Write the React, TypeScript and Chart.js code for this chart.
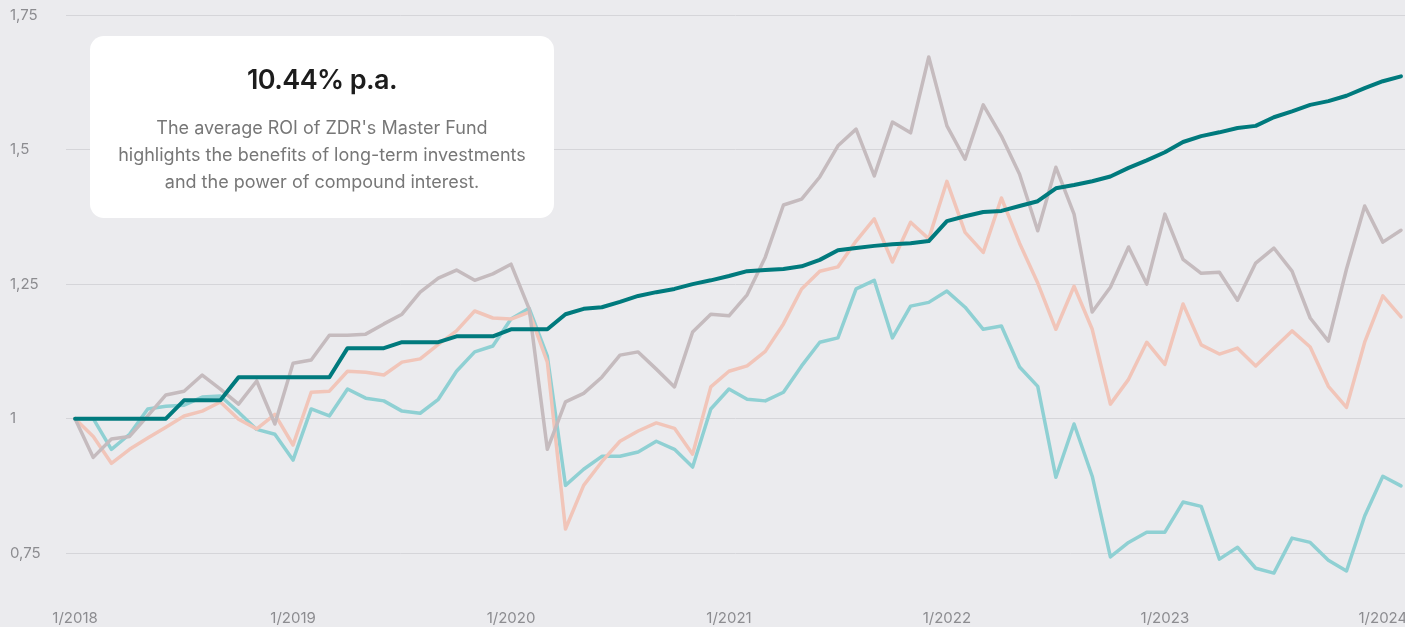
import React, { useEffect, useRef } from "react";
import { Chart, registerables } from "chart.js";

Chart.register(...registerables);

// Monthly index values, Jan 2018 (index 0) to Feb 2024 (index 73)
const masterFund = [
  1.0, 1.0, 1.0, 1.0, 1.0, 1.0, 1.034, 1.034, 1.034, 1.077,
  1.077, 1.077, 1.077, 1.077, 1.077, 1.131, 1.131, 1.131, 1.142, 1.142,
  1.142, 1.153, 1.153, 1.153, 1.166, 1.166, 1.166, 1.194, 1.204, 1.207,
  1.217, 1.228, 1.235, 1.241, 1.25, 1.257, 1.265, 1.274, 1.276, 1.278,
  1.283, 1.295, 1.313, 1.317, 1.321, 1.324, 1.326, 1.33, 1.367, 1.376,
  1.384, 1.386, 1.395, 1.404, 1.428, 1.434, 1.441, 1.45, 1.466, 1.48,
  1.495, 1.514, 1.525, 1.532, 1.54, 1.544, 1.56, 1.571, 1.583, 1.59,
  1.6, 1.614, 1.627, 1.636,
];

const indexTeal = [
  1.0, 1.0, 0.943, 0.971, 1.018, 1.023, 1.025, 1.04, 1.042, 1.012,
  0.98, 0.971, 0.923, 1.018, 1.005, 1.055, 1.038, 1.033, 1.014, 1.01,
  1.036, 1.088, 1.124, 1.135, 1.185, 1.205, 1.116, 0.876, 0.906, 0.93,
  0.93, 0.938, 0.958, 0.943, 0.91, 1.018, 1.055, 1.036, 1.033, 1.049,
  1.098, 1.142, 1.15, 1.241, 1.257, 1.15, 1.209, 1.216, 1.237, 1.207,
  1.166, 1.172, 1.096, 1.06, 0.891, 0.99, 0.893, 0.743, 0.77, 0.789,
  0.789, 0.845, 0.837, 0.739, 0.761, 0.722, 0.713, 0.778, 0.77, 0.737,
  0.717, 0.819, 0.893, 0.875,
];

const indexPink = [
  1.0, 0.967, 0.917, 0.943, 0.964, 0.984, 1.005, 1.014, 1.031, 0.999,
  0.981, 1.008, 0.951, 1.049, 1.051, 1.088, 1.086, 1.081, 1.105, 1.111,
  1.138, 1.163, 1.2, 1.187, 1.185, 1.198, 1.105, 0.795, 0.876, 0.92,
  0.958, 0.977, 0.992, 0.982, 0.934, 1.059, 1.088, 1.098, 1.125, 1.176,
  1.241, 1.274, 1.282, 1.33, 1.371, 1.291, 1.365, 1.334, 1.441, 1.346,
  1.309, 1.41, 1.326, 1.252, 1.166, 1.246, 1.166, 1.027, 1.073, 1.142,
  1.101, 1.213, 1.137, 1.12, 1.131, 1.098, 1.131, 1.163, 1.133, 1.06,
  1.021, 1.142, 1.228, 1.189,
];

const indexMauve = [
  1.0, 0.928, 0.962, 0.967, 1.005, 1.044, 1.051, 1.081, 1.055, 1.027,
  1.07, 0.99, 1.103, 1.109, 1.155, 1.155, 1.157, 1.176, 1.194, 1.235,
  1.261, 1.276, 1.257, 1.269, 1.287, 1.204, 0.943, 1.031, 1.047, 1.077,
  1.118, 1.124, 1.092, 1.059, 1.161, 1.194, 1.191, 1.23, 1.3, 1.397,
  1.408, 1.449, 1.507, 1.538, 1.451, 1.551, 1.531, 1.672, 1.544, 1.482,
  1.583, 1.525, 1.454, 1.349, 1.467, 1.38, 1.198, 1.244, 1.319, 1.25,
  1.38, 1.296, 1.27, 1.272, 1.22, 1.289, 1.317, 1.274, 1.187, 1.144,
  1.278, 1.395, 1.328, 1.35,
];

const xTickMonths = [0, 12, 24, 36, 48, 60, 72];
const xTickLabels = ["1/2018", "1/2019", "1/2020", "1/2021", "1/2022", "1/2023", "1/2024"];
const yTickValues = [0.75, 1, 1.25, 1.5, 1.75];
const yTickLabels = ["0,75", "1", "1,25", "1,5", "1,75"];

const toPoints = (arr: number[]) => arr.map((y, x) => ({ x, y }));

export default function App() {
  const canvasRef = useRef<HTMLCanvasElement>(null);

  useEffect(() => {
    document.body.style.margin = "0";
    const tickFont = { family: "Inter", size: 15 };
    const chart = new Chart(canvasRef.current!, {
      type: "line",
      data: {
        datasets: [
          { label: "ZDR Master Fund", data: toPoints(masterFund), borderColor: "#007a7d", borderWidth: 4, order: 0 },
          { label: "Benchmark A", data: toPoints(indexMauve), borderColor: "#c5bbbe", borderWidth: 3.5, order: 1 },
          { label: "Benchmark B", data: toPoints(indexPink), borderColor: "#f1c5b9", borderWidth: 3.5, order: 2 },
          { label: "Benchmark C", data: toPoints(indexTeal), borderColor: "#8fd0d3", borderWidth: 3.5, order: 3 },
        ],
      },
      options: {
        responsive: false,
        animation: false,
        devicePixelRatio: 1,
        layout: { padding: { left: 10, top: 15, right: 0, bottom: 0 } },
        elements: {
          point: { radius: 0, hoverRadius: 0 },
          line: { tension: 0, borderJoinStyle: "round", borderCapStyle: "round" },
        },
        plugins: { legend: { display: false }, tooltip: { enabled: false } },
        scales: {
          x: {
            type: "linear",
            min: -0.5,
            max: 73.22,
            grid: { display: false, drawTicks: false },
            border: { display: false },
            afterBuildTicks: (s: any) => {
              s.ticks = xTickMonths.map((v) => ({ value: v }));
            },
            afterFit: (s: any) => {
              s.height = 20;
              s.paddingLeft = 0;
              s.paddingRight = 0;
            },
            ticks: {
              autoSkip: false,
              maxRotation: 0,
              padding: 2,
              font: tickFont,
              color: "#8c8c90",
              callback: (v: any) => {
                const i = xTickMonths.indexOf(Number(v));
                return i >= 0 ? xTickLabels[i] : "";
              },
            },
          },
          y: {
            min: 0.65,
            max: 1.75,
            grid: { color: "#d5d5d9", lineWidth: 1, drawTicks: false },
            border: { display: false },
            afterBuildTicks: (s: any) => {
              s.ticks = yTickValues.map((v) => ({ value: v }));
            },
            afterFit: (s: any) => {
              s.width = 56;
            },
            ticks: {
              crossAlign: "far",
              padding: 0,
              font: tickFont,
              color: "#8c8c90",
              callback: (v: any) => {
                const i = yTickValues.indexOf(Number(v));
                return i >= 0 ? yTickLabels[i] : "";
              },
            },
          },
        },
      },
    });
    return () => chart.destroy();
  }, []);

  return (
    <div style={{ position: "relative", width: 1405, height: 627, background: "#ebebee", overflow: "hidden" }}>
      <canvas ref={canvasRef} width={1405} height={627} style={{ position: "absolute", left: 0, top: 0, width: 1405, height: 627 }} />
      <div
        style={{
          position: "absolute",
          left: 90,
          top: 36,
          width: 464,
          height: 182,
          background: "#ffffff",
          borderRadius: 14,
          textAlign: "center",
          fontFamily: "Inter, sans-serif",
        }}
      >
        <div
          style={{
            position: "absolute",
            top: 26,
            left: 0,
            right: 0,
            fontSize: 27,
            fontWeight: 600,
            lineHeight: "36px",
            color: "#1c1c1c",
            letterSpacing: -0.6,
          }}
        >
          10.44% p.a.
        </div>
        <div
          style={{
            position: "absolute",
            top: 78,
            left: 0,
            right: 0,
            fontSize: 18,
            lineHeight: "27px",
            color: "#777777",
          }}
        >
          The average ROI of ZDR's Master Fund
          <br />
          highlights the benefits of long-term investments
          <br />
          and the power of compound interest.
        </div>
      </div>
    </div>
  );
}
